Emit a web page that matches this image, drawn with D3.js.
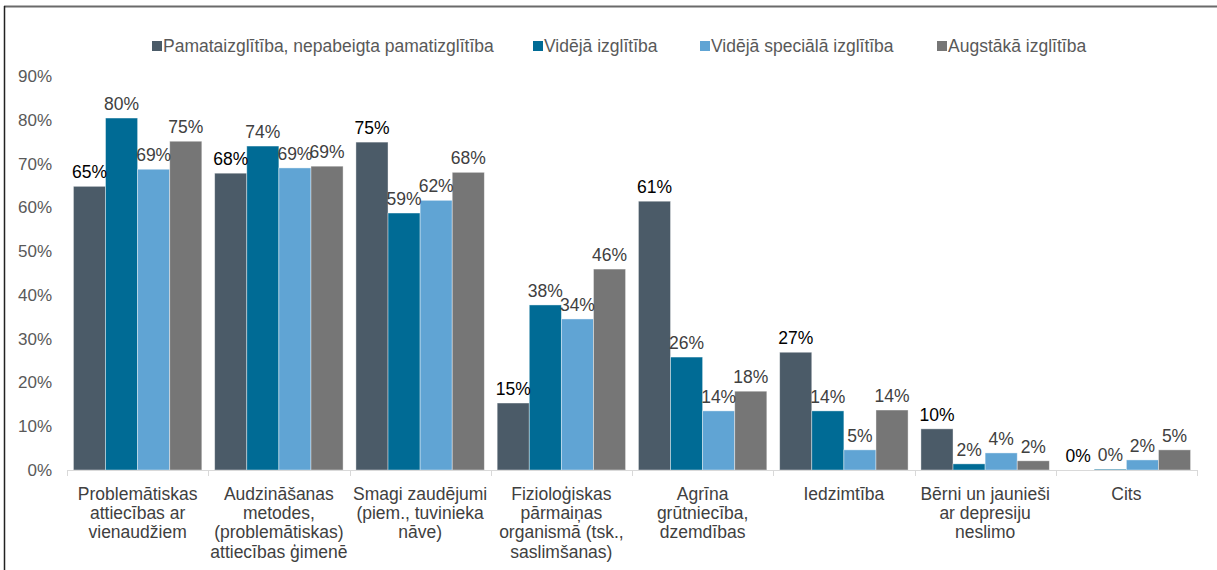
<!DOCTYPE html>
<html><head><meta charset="utf-8">
<script src="https://cdn.jsdelivr.net/npm/d3@7"></script>
<style>body{margin:0;background:#fff}svg{display:block;font-family:"Liberation Sans",Arial,sans-serif}</style>
</head><body><svg id="c" width="1217" height="570"></svg>
<script>
const categories = [
  ["Problemātiskas","attiecības ar","vienaudžiem"],
  ["Audzināšanas","metodes,","(problemātiskas)","attiecības ģimenē"],
  ["Smagi zaudējumi","(piem., tuvinieka","nāve)"],
  ["Fizioloģiskas","pārmaiņas","organismā (tsk.,","saslimšanas)"],
  ["Agrīna","grūtniecība,","dzemdības"],
  ["Iedzimtība"],
  ["Bērni un jaunieši","ar depresiju","neslimo"],
  ["Cits"]
];
const seriesNames = ["Pamataizglītība, nepabeigta pamatizglītība","Vidējā izglītība","Vidējā speciālā izglītība","Augstākā izglītība"];
const pamat   = [64.8, 67.8, 74.9, 15.3, 61.4, 26.9, 9.4, 0];
const videja  = [80.4, 74.0, 58.7, 37.7, 25.8, 13.5, 1.4, 0.2];
const special = [68.7, 69.0, 61.6, 34.5, 13.5, 4.6, 3.9, 2.3];
const augst   = [75.1, 69.4, 68.0, 45.9, 18.0, 13.7, 2.1, 4.6];
const labelsP = ["65%","68%","75%","15%","61%","27%","10%","0%"];
const labelsV = ["80%","74%","59%","38%","26%","14%","2%","0%"];
const labelsS = ["69%","69%","62%","34%","14%","5%","4%","2%"];
const labelsA = ["75%","69%","68%","46%","18%","14%","2%","5%"];
const yTicks = [0,10,20,30,40,50,60,70,80,90];
const colors = ["#4b5b68","#006b95","#60a4d4","#767676"];
const labelColors = ["#000","#404040","#404040","#404040"];

const series = [pamat, videja, special, augst];
const labels = [labelsP, labelsV, labelsS, labelsA];

(function(){
const svg = d3.select("#c");
const L = 67, R = 1197, T = 76, B = 470;
const x0 = d3.scaleBand().domain(d3.range(categories.length)).range([L,R]);
const xs = d3.scaleBand().domain(d3.range(4)).range([0, x0.bandwidth()]).paddingOuter(0.2);
const y = d3.scaleLinear().domain([0,90]).range([B, T]);

// frame
svg.append("line").attr("x1",4).attr("x2",1217).attr("y1",6.5).attr("y2",6.5).attr("stroke","#6a6a6a").attr("stroke-width",2);
svg.append("line").attr("x1",4.5).attr("x2",4.5).attr("y1",6).attr("y2",570).attr("stroke","#222").attr("stroke-width",1.5);

// y axis labels
svg.append("g").selectAll("text").data(yTicks).join("text")
  .attr("x",52).attr("y",d=>y(d)+6).attr("text-anchor","end")
  .attr("font-size",17).attr("fill","#595959").text(d=>d+"%");

// bars
series.forEach((vals,si)=>{
  svg.append("g").selectAll("rect").data(vals).join("rect")
    .attr("x",(d,i)=>x0(i)+xs(si)).attr("width",xs.bandwidth())
    .attr("y",d=>y(d)).attr("height",d=>B-y(d))
    .attr("fill",colors[si]).attr("stroke","#fff").attr("stroke-opacity",0.5).attr("stroke-width",0.8);
});
series.forEach((vals,si)=>{
  svg.append("g").selectAll("text").data(vals).join("text")
    .attr("x",(d,i)=>x0(i)+xs(si)+xs.bandwidth()/2).attr("y",d=>y(d)-8)
    .attr("text-anchor","middle").attr("font-size",17.5).attr("fill",labelColors[si])
    .text((d,i)=>labels[si][i]);
});

// x axis
const ax = svg.append("g");
ax.append("line").attr("x1",L).attr("x2",R).attr("y1",B+0.5).attr("y2",B+0.5).attr("stroke","#d9d9d9");
ax.selectAll("line.t").data(d3.range(categories.length+1)).join("line").attr("class","t")
  .attr("x1",i=>Math.round(L+i*x0.step())+0.5).attr("x2",i=>Math.round(L+i*x0.step())+0.5)
  .attr("y1",B).attr("y2",B+6).attr("stroke","#d9d9d9");
categories.forEach((lines,i)=>{
  const t = svg.append("text").attr("text-anchor","middle").attr("font-size",17.5).attr("fill","#404040");
  lines.forEach((l,j)=>t.append("tspan").attr("x",x0(i)+x0.bandwidth()/2).attr("y",500+j*19.2).text(l));
});

// legend
const legX = [152,533,700,937];
seriesNames.forEach((n,i)=>{
  svg.append("rect").attr("x",legX[i]).attr("y",41).attr("width",10).attr("height",10).attr("fill",colors[i]);
  svg.append("text").attr("x",legX[i]+11).attr("y",52).attr("font-size",17.5).attr("fill","#595959").text(n);
});
})();
</script></body></html>
